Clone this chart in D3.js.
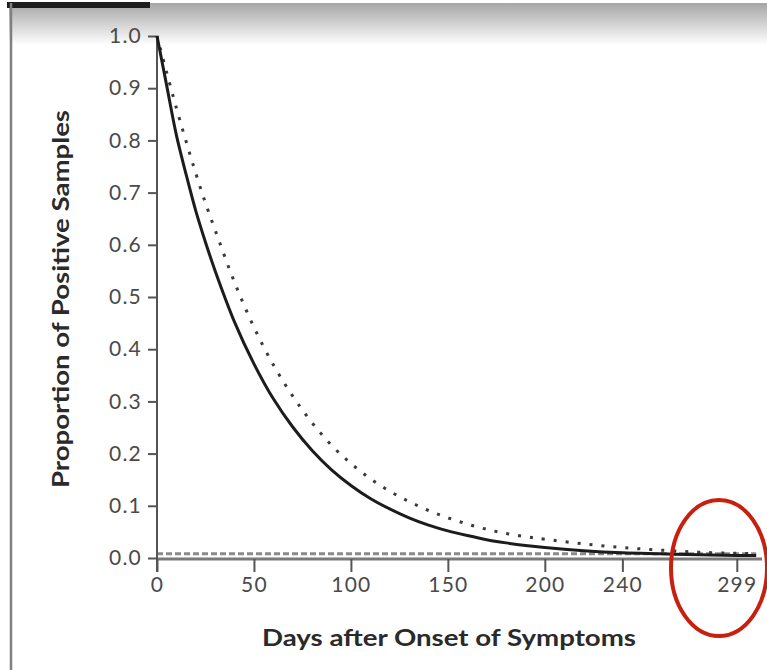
<!DOCTYPE html>
<html><head><meta charset="utf-8">
<script src="https://cdn.jsdelivr.net/npm/d3@7"></script>
<style>html,body{margin:0;padding:0;background:#fff;}svg{display:block;}</style>
</head><body>
<script>
// ---- data ----
const days = [0,5,10,15,20,25,30,40,50,60,70,80,90,100,110,120,130,140,150,160,170,180,190,200,220,240,260,280,299,309];
const solidValues = [1.0,0.905,0.81,0.735,0.665,0.605,0.55,0.452,0.372,0.305,0.251,0.206,0.169,0.139,0.114,0.094,0.077,0.063,0.052,0.043,0.035,0.029,0.024,0.02,0.014,0.01,0.008,0.006,0.005,0.005];
const dottedValues = [1.0,0.93,0.862,0.798,0.737,0.68,0.628,0.528,0.442,0.37,0.31,0.259,0.216,0.181,0.152,0.128,0.108,0.091,0.077,0.065,0.055,0.047,0.041,0.036,0.027,0.02,0.015,0.011,0.009,0.008];
const thresholdValue = 0.008;
const xTicks = [0,50,100,150,200,240,299];
const yTicks = [0,0.1,0.2,0.3,0.4,0.5,0.6,0.7,0.8,0.9,1.0];
const xTitle = "Days after Onset of Symptoms";
const yTitle = "Proportion of Positive Samples";

const W = 767, H = 670;
const svg = d3.select("body").append("svg").attr("width", W).attr("height", H);

// top gradient band and frame
const defs = svg.append("defs");
const grad = defs.append("linearGradient").attr("id","topg").attr("x1",0).attr("y1",0).attr("x2",0).attr("y2",1);
grad.append("stop").attr("offset","0%").attr("stop-color","#a6a6a6");
grad.append("stop").attr("offset","100%").attr("stop-color","#ffffff");
svg.append("rect").attr("x",9).attr("y",3).attr("width",W-9).attr("height",42).attr("fill","url(#topg)");
svg.append("rect").attr("x",7).attr("y",2).attr("width",143).attr("height",6).attr("fill","#1e1e1e");
svg.append("line").attr("x1",11).attr("x2",11).attr("y1",3).attr("y2",H).attr("stroke","#808080").attr("stroke-width",2.5);

const x = d3.scaleLinear().domain([0,312]).range([157,762]);
const y = d3.scaleLinear().domain([0,1]).range([558,36]);
const font = "Lato, 'Open Sans', sans-serif";

// threshold dashed line
svg.append("line").attr("x1",x(0)).attr("x2",x(309)).attr("y1",y(thresholdValue)).attr("y2",y(thresholdValue))
  .attr("stroke","#8a8a8a").attr("stroke-width",3).attr("stroke-dasharray","6,3");

// x axis
const xAxis = d3.axisBottom(x).tickValues(xTicks).tickSize(13).tickPadding(5).tickFormat(d3.format("d"));
const gx = svg.append("g").attr("transform","translate(0,559)").call(xAxis);
gx.select(".domain").attr("d", `M${x(0)},0H${x(312)}`).attr("stroke","#7a7a7a").attr("stroke-width",3);
gx.selectAll(".tick line").attr("stroke","#555").attr("stroke-width",2);
gx.selectAll(".tick text").attr("font-family",font).attr("font-size",21).attr("fill","#4a4a4a").attr("letter-spacing","1.2px");

// y axis
const yAxis = d3.axisLeft(y).tickValues(yTicks).tickSize(9).tickPadding(6).tickFormat(d3.format(".1f"));
const gy = svg.append("g").attr("transform","translate(157,0)").call(yAxis);
gy.select(".domain").attr("d", `M0,${y(1)}V572`).attr("stroke","#555").attr("stroke-width",2);
gy.selectAll(".tick line").attr("stroke","#555").attr("stroke-width",2);
gy.selectAll(".tick text").attr("font-family",font).attr("font-size",21).attr("fill","#4a4a4a").attr("letter-spacing","1.2px");

// curves
const line = d3.line().x(d => x(d[0])).y(d => y(d[1])).curve(d3.curveCatmullRom.alpha(0.5));
svg.append("path").datum(days.map((d,i)=>[d,dottedValues[i]])).attr("d",line)
  .attr("fill","none").attr("stroke","#3a3a3a").attr("stroke-width",3).attr("stroke-dasharray","3,9");
svg.append("path").datum(days.map((d,i)=>[d,solidValues[i]])).attr("d",line)
  .attr("fill","none").attr("stroke","#1c1c1c").attr("stroke-width",3);

// titles
svg.append("text").attr("x",449).attr("y",646).attr("text-anchor","middle")
  .attr("font-family",font).attr("font-weight","bold").attr("font-size",22).attr("fill","#2a2a2a")
  .attr("textLength",374).attr("lengthAdjust","spacingAndGlyphs").text(xTitle);
svg.append("text").attr("transform","translate(69,299) rotate(-90)").attr("text-anchor","middle")
  .attr("font-family",font).attr("font-weight","bold").attr("font-size",22).attr("fill","#2a2a2a")
  .attr("textLength",378).attr("lengthAdjust","spacingAndGlyphs").text(yTitle);

// red annotation ellipse
svg.append("ellipse").attr("cx",719).attr("cy",568).attr("rx",48).attr("ry",68)
  .attr("fill","none").attr("stroke","#c8200f").attr("stroke-width",4);
</script>
</body></html>
